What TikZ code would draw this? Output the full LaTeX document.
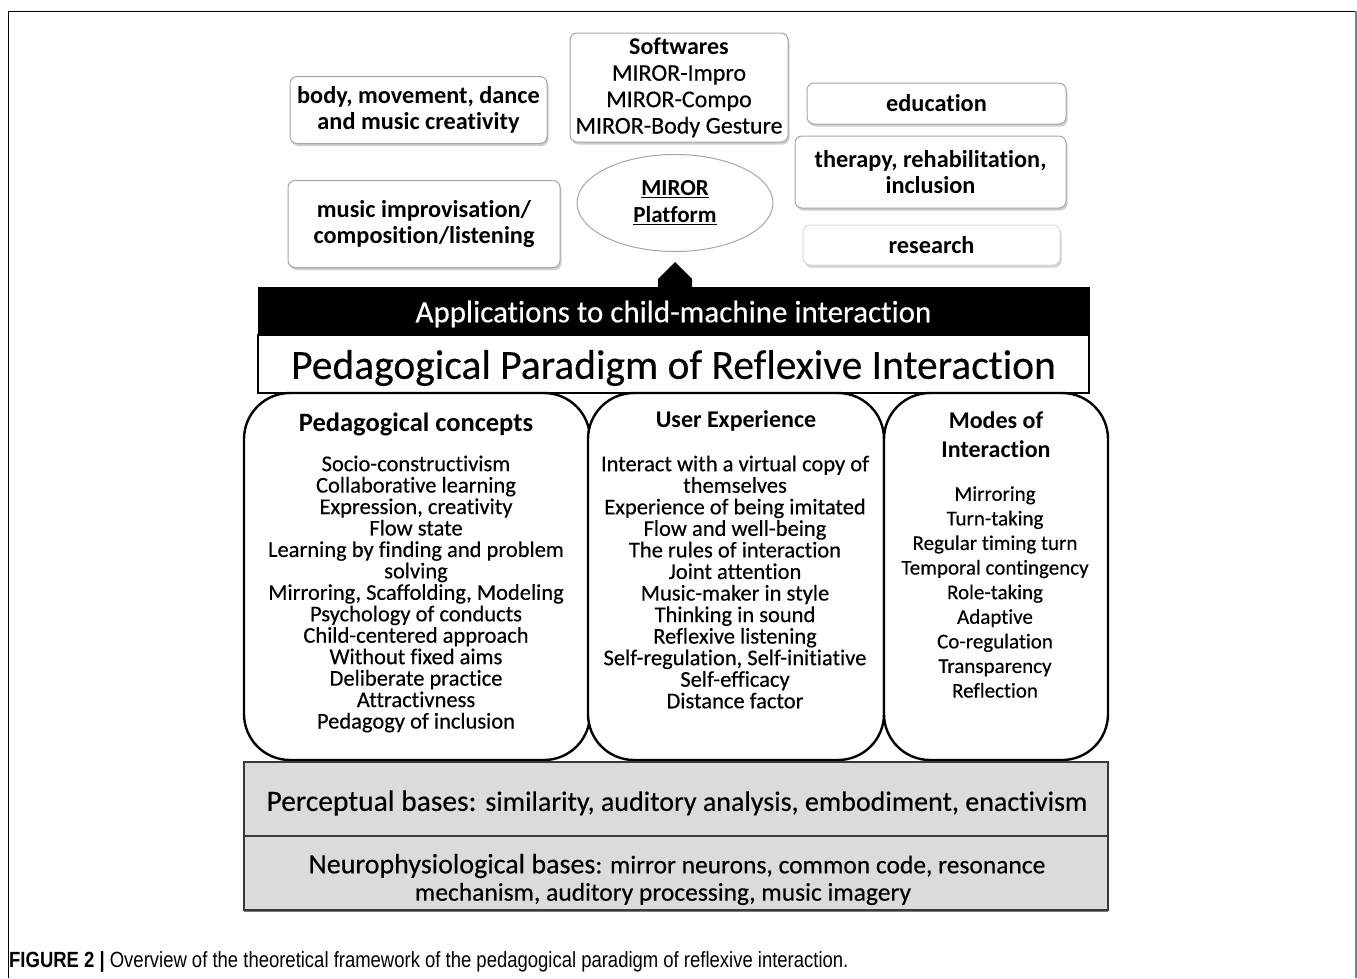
\documentclass[tikz,border=0pt]{standalone}
\usepackage{fontspec}
\setmainfont{Carlito}[Ligatures={NoCommon}, UprightFeatures={FakeBold=0.35}]
\newfontfamily\capfont[FakeStretch=0.84]{Liberation Sans}
\usetikzlibrary{shadows,shapes.geometric}
\tikzset{
  topbox/.style={draw=gray!70, line width=1pt, rounded corners=7pt, fill=white,
    drop shadow={shadow xshift=1.5pt, shadow yshift=-2.5pt, fill=gray!55, opacity=0.7},
    font=\fontsize{24.3}{26.5}\selectfont\bfseries, align=center, inner sep=0pt},
  colbox/.style={draw=black, line width=2.4pt, rounded corners=46pt, fill=white, inner sep=0pt},
  coltitle/.style={font=\fontsize{24}{29}\selectfont\bfseries, align=center, inner sep=0pt},
  basebox/.style={draw=gray!45!black, line width=1.6pt, fill=gray!28, inner sep=0pt,
    drop shadow={shadow xshift=0pt, shadow yshift=-2pt, fill=gray!70!black, opacity=0.8}},
  plain/.style={inner sep=0pt, align=center}
}
\begin{document}
\begin{tikzpicture}[x=1pt,y=-1pt]
\useasboundingbox (0,0) rectangle (1357,978);
% outer frame
\draw[black, line width=1pt] (8,978) -- (8,11) -- (1356,11);
\draw[gray, line width=2pt] (1356,11) -- (1356,978);

% top boxes
\node[topbox, minimum width=257pt, minimum height=67pt] (body) at (418.5,110)
  {body, movement, dance\\and music creativity};
\node[topbox, minimum width=218pt, minimum height=109pt,
  font=\fontsize{24}{26.4}\selectfont] (soft) at (679,87.5)
  {\textbf{Softwares}\\MIROR-Impro\\MIROR-Compo\\MIROR-Body Gesture};
\node[topbox, minimum width=259pt, minimum height=41pt] (edu) at (936.5,103.5) {education};
\node[topbox, minimum width=271pt, minimum height=72pt] (ther) at (930.5,172)
  {therapy, rehabilitation,\\inclusion};
\node[topbox, draw=gray!30, minimum width=257pt, minimum height=40pt,
  drop shadow={shadow xshift=1pt, shadow yshift=-1.5pt, fill=gray!30, opacity=0.6}] (res) at (931.5,245) {research};
\node[topbox, minimum width=272pt, minimum height=87pt] (music) at (424,224)
  {music improvisation/\\composition/listening};
\node[ellipse, draw=gray!70, line width=1pt, fill=white, minimum width=196pt, minimum height=97pt,
  inner sep=0pt, font=\fontsize{23}{27}\selectfont\bfseries, align=center] (miror) at (675,203)
  {\underline{MIROR}\\\underline{Platform}};

% bar and title
\node[fill=black, draw=black, minimum width=831pt, minimum height=48pt, inner sep=0pt] (app) at (673.5,311) {};
\node[plain, text=white, font=\fontsize{31}{33}\selectfont] (apptxt) at (673.5,314)
  {Applications to child-machine interaction};
\node[draw=black, line width=1.6pt, fill=white, minimum width=831pt, minimum height=58pt, inner sep=0pt] (para) at (673.5,364) {};
\node[plain, font=\fontsize{41.5}{44}\selectfont] (paratxt) at (673.5,368)
  {Pedagogical Paradigm of Reflexive Interaction};
\fill[black] (app.north -| 658,0) -- (658,279) -- (675,262) -- (692,279) -- (692,0 |- app.north) -- cycle;

% columns
\node[colbox, minimum width=346pt, minimum height=367pt] (c1) at (417,576.5) {};
\node[colbox, minimum width=296pt, minimum height=367pt] (c2) at (736,576.5) {};
\node[colbox, minimum width=224pt, minimum height=367pt] (c3) at (996,576.5) {};

\node[coltitle, font=\fontsize{26.5}{29}\selectfont\bfseries] (t1) at (416,424) {Pedagogical concepts};
\node[plain, font=\fontsize{22.5}{21.45}\selectfont] (l1) at (416,594)
  {Socio-constructivism\\Collaborative learning\\Expression, creativity\\Flow state\\
   Learning by finding and problem\\solving\\Mirroring, Scaffolding, Modeling\\
   Psychology of conducts\\Child-centered approach\\Without fixed aims\\
   Deliberate practice\\Attractivness\\Pedagogy of inclusion};

\node[coltitle] (t2) at (736,421) {User Experience};
\node[plain, font=\fontsize{22.5}{21.55}\selectfont] (l2) at (735,582)
  {Interact with a virtual copy of\\themselves\\Experience of being imitated\\Flow and well-being\\
   The rules of interaction\\Joint attention\\Music-maker in style\\Thinking in sound\\
   Reflexive listening\\Self-regulation, Self-initiative\\Self-efficacy\\Distance factor};

\node[coltitle] (t3) at (996,435) {Modes of\\Interaction};
\node[plain, font=\fontsize{21}{24.6}\selectfont] (l3) at (995,592)
  {Mirroring\\Turn-taking\\Regular timing turn\\Temporal contingency\\Role-taking\\
   Adaptive\\Co-regulation\\Transparency\\Reflection};

% bases
\node[basebox, minimum width=864pt, minimum height=74pt] (perc) at (676,799) {};
\node[basebox, minimum width=864pt, minimum height=74pt] (neuro) at (676,873) {};
\node[plain] (ptxt) at (677,803)
  {\fontsize{29.5}{30}\selectfont Perceptual bases: \fontsize{28}{30}\selectfont similarity, auditory analysis, embodiment, enactivism};
\node[plain] (ntxt1) at (677,866)
  {\fontsize{28}{29}\selectfont Neurophysiological bases\fontsize{25.5}{29}\selectfont: mirror neurons, common code, resonance};
\node[plain, font=\fontsize{25.5}{29}\selectfont] (ntxt2) at (663,894)
  {mechanism, auditory processing, music imagery};

% caption
\node[anchor=west, inner sep=0pt, font=\capfont\fontsize{22}{24}\selectfont] (cap) at (9,962)
  {\textbf{FIGURE 2 |} Overview of the theoretical framework of the pedagogical paradigm of reflexive interaction.};
\end{tikzpicture}
\end{document}
